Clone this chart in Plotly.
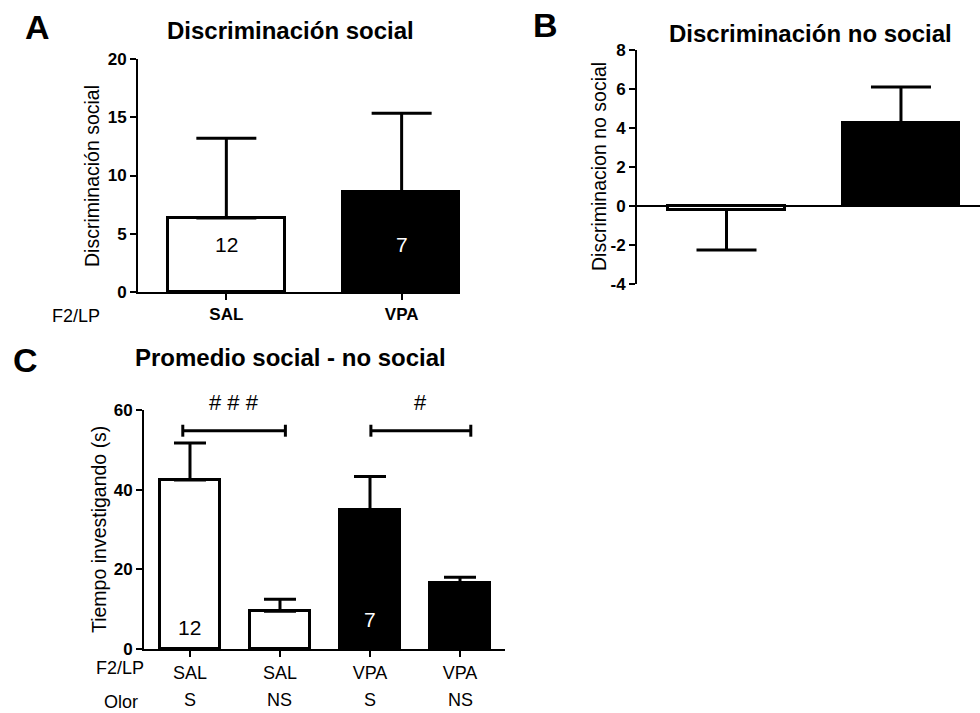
import plotly.graph_objects as go

# ---- data -------------------------------------------------------------
groups_ab = ["SAL", "VPA"]
n_per_group = [12, 7]

disc_social_mean = [6.35, 8.6]
disc_social_sem = [6.85, 6.75]

disc_nosocial_mean = [-0.18, 4.26]
disc_nosocial_sem_up = [0.0, 1.84]
disc_nosocial_sem_down = [2.08, 0.0]
b_ticks = [-4, -2, 0, 2, 4, 6, 8]
b_ticktext = ["-4", "-2", "0", "2", "4", "6", "8"]

c_treatment = ["SAL", "SAL", "VPA", "VPA"]
c_odor = ["S", "NS", "S", "NS"]
c_time_mean = [42.4, 9.5, 35.0, 16.5]
c_time_sem = [9.3, 3.0, 8.3, 1.5]
c_brackets = [(-0.08, 1.06, "# # #"), (2.01, 3.12, "#")]
bracket_level = 54.8

# ---- styling ------------------------------------------------------------
FONT = "Liberation Sans, Arial, sans-serif"
W, H = 980, 713
fill_ab = ["white", "black"]
fill_c = ["white", "white", "black", "black"]
TICK_SIZE = 17


def px_x(x):
    return x / W


def px_y(y):
    return 1 - y / H


fig = go.Figure()

# Panel A
fig.add_trace(go.Bar(
    x=[0, 1], y=disc_social_mean, width=0.665,
    marker=dict(color=fill_ab, line=dict(color="black", width=3)),
    error_y=dict(type="data", symmetric=False, array=disc_social_sem,
                 arrayminus=[0, 0], color="black", thickness=3, width=30),
    xaxis="x", yaxis="y", showlegend=False, hoverinfo="skip",
))

# Panel B
fig.add_trace(go.Bar(
    x=[0, 1], y=disc_nosocial_mean, width=0.665,
    marker=dict(color=fill_ab, line=dict(color="black", width=3)),
    error_y=dict(type="data", symmetric=False, array=disc_nosocial_sem_up,
                 arrayminus=disc_nosocial_sem_down, color="black",
                 thickness=3, width=30),
    xaxis="x2", yaxis="y2", showlegend=False, hoverinfo="skip",
))

# Panel C
fig.add_trace(go.Bar(
    x=[0, 1, 2, 3], y=c_time_mean, width=0.67,
    marker=dict(color=fill_c, line=dict(color="black", width=3)),
    error_y=dict(type="data", symmetric=False, array=c_time_sem,
                 arrayminus=[0, 0, 0, 0], color="black", thickness=3, width=16),
    xaxis="x3", yaxis="y3", showlegend=False, hoverinfo="skip",
))

# significance brackets in panel C
for x0, x1, label in c_brackets:
    fig.add_trace(go.Scatter(
        x=[x0, x0, None, x0, x1, None, x1, x1],
        y=[bracket_level - 1.5, bracket_level + 1.5, None,
           bracket_level, bracket_level, None,
           bracket_level - 1.5, bracket_level + 1.5],
        mode="lines", line=dict(color="black", width=3),
        xaxis="x3", yaxis="y3", showlegend=False, hoverinfo="skip",
        cliponaxis=False,
    ))

axis_common = dict(
    showline=True, linecolor="black", linewidth=2,
    ticks="outside", ticklen=6, tickwidth=2, tickcolor="black",
    showgrid=False, zeroline=False, fixedrange=True, automargin=False,
)
bold_ticks = dict(size=TICK_SIZE, weight="bold")

fig.update_layout(
    template="none",
    width=W, height=H, autosize=False,
    margin=dict(l=0, r=0, t=0, b=0, pad=0, autoexpand=False),
    paper_bgcolor="white", plot_bgcolor="white",
    font=dict(family=FONT, color="black"),
    bargap=0,
    xaxis=dict(**axis_common, domain=[px_x(138), px_x(460)],
               range=[-0.504, 1.333], anchor="y",
               tickvals=[0, 1], ticktext=groups_ab, tickfont=bold_ticks),
    yaxis=dict(**axis_common, domain=[px_y(292), px_y(59)],
               range=[0, 20], dtick=5, anchor="x", tickfont=bold_ticks),
    xaxis2=dict(showline=False, showgrid=False, zeroline=False,
                showticklabels=False, ticks="", fixedrange=True,
                automargin=False,
                domain=[px_x(637), 1.0], range=[-0.513, 1.453], anchor="y2"),
    yaxis2=dict(**{**axis_common, "zeroline": True},
                zerolinecolor="black", zerolinewidth=2,
                domain=[px_y(284), px_y(50)],
                range=[-4, 8], tickvals=b_ticks, ticktext=b_ticktext,
                anchor="x2", tickfont=bold_ticks),
    xaxis3=dict(**axis_common, domain=[px_x(144), px_x(505)],
                range=[-0.511, 3.5], anchor="y3",
                tickvals=[0, 1, 2, 3], ticktext=c_treatment,
                tickfont=dict(size=18)),
    yaxis3=dict(**axis_common, domain=[px_y(649), px_y(410)],
                range=[0, 60], dtick=20, anchor="x3", tickfont=bold_ticks),
)

ann = []


def paper_text(text, x, y, size, bold=False, angle=0, color="black"):
    ann.append(dict(
        text=text, x=px_x(x), y=px_y(y), xref="paper", yref="paper",
        xanchor="center", yanchor="middle", showarrow=False, textangle=angle,
        font=dict(size=size, family=FONT, color=color,
                  weight="bold" if bold else "normal"),
    ))


# panel letters and titles
paper_text("A", 37, 27, 34, bold=True)
paper_text("B", 545, 25, 34, bold=True)
paper_text("C", 25, 360, 34, bold=True)
paper_text("Discriminación social", 290, 31, 24, bold=True)
paper_text("Discriminación no social", 810, 33, 24, bold=True)
paper_text("Promedio social - no social", 290, 357, 24, bold=True)

# y-axis titles
paper_text("Discriminación social", 92, 176, 19.5, angle=-90)
paper_text("Discriminacion no social", 599, 167, 19.5, angle=-90)
paper_text("Tiempo investigando (s)", 99, 530, 19.5, angle=-90)

# row labels
paper_text("F2/LP", 76, 316, 18)
paper_text("F2/LP", 120, 668, 18)
paper_text("Olor", 121, 702, 18)

# odour row under panel C
for i, od in enumerate(c_odor):
    ann.append(dict(
        text=od, x=i, y=px_y(700), xref="x3", yref="paper",
        xanchor="center", yanchor="middle", showarrow=False,
        font=dict(size=18, family=FONT, color="black"),
    ))

# group sizes inside the bars
for i, n in enumerate(n_per_group):
    ann.append(dict(
        text=str(n), x=i, y=4.1, xref="x", yref="y",
        showarrow=False, xanchor="center", yanchor="middle",
        font=dict(size=21, family=FONT, color=fill_ab[1 - i]),
    ))
for xi, yi, n, col in [(0, 5.5, n_per_group[0], "black"),
                       (2, 7.5, n_per_group[1], "white")]:
    ann.append(dict(
        text=str(n), x=xi, y=yi, xref="x3", yref="y3",
        showarrow=False, xanchor="center", yanchor="middle",
        font=dict(size=21, family=FONT, color=col),
    ))

# significance marks above the brackets
for x0, x1, label in c_brackets:
    ann.append(dict(
        text=label, x=(x0 + x1) / 2, y=px_y(402), xref="x3", yref="paper",
        showarrow=False, xanchor="center", yanchor="middle",
        font=dict(size=22, family=FONT, color="black"),
    ))

fig.update_layout(annotations=ann)

fig.write_html("out.html")
